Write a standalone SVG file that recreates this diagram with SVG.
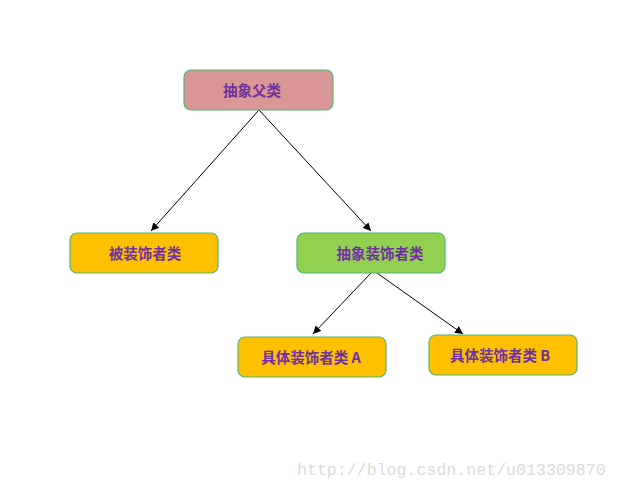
<svg xmlns="http://www.w3.org/2000/svg" width="617" height="490" viewBox="0 0 617 490">
<style>
.box{stroke:#4DB870;stroke-width:1.2}
.lbl{font-family:"Noto Sans CJK SC","Liberation Sans",sans-serif;font-size:14.5px;font-weight:bold;fill:#7030A0;text-anchor:middle;dominant-baseline:central}
.conn{stroke:#000;stroke-width:1;fill:none;marker-end:url(#arr)}
.wm{font-family:"Liberation Mono",monospace;font-size:16.6px;fill:#DCDCDC}
</style>
<defs>
<marker id="arr" viewBox="0 0 10 10" refX="10" refY="5" markerWidth="8" markerHeight="8" markerUnits="userSpaceOnUse" orient="auto">
<path d="M0,0 L10,5 L0,10 z" fill="#000"/>
</marker>
</defs>
<rect width="617" height="490" fill="#fff"/>
<g id="connectors">
<line class="conn" x1="259" y1="110" x2="151" y2="231"/>
<line class="conn" x1="259" y1="110" x2="371" y2="231"/>
<line class="conn" x1="371" y1="273" x2="313" y2="334"/>
<line class="conn" x1="377" y1="273" x2="463" y2="334"/>
</g>
<g id="abstract-parent">
<rect class="box" x="184" y="70" width="149" height="40" rx="7" fill="#D99694"/>
<text class="lbl" x="252" y="89">抽象父类</text>
</g>
<g id="decorated">
<rect class="box" x="70" y="233" width="148" height="40" rx="7" fill="#FFC000"/>
<text class="lbl" x="145" y="252">被装饰者类</text>
</g>
<g id="abstract-decorator">
<rect class="box" x="297" y="233" width="148" height="40" rx="7" fill="#92D050"/>
<text class="lbl" x="380" y="252">抽象装饰者类</text>
</g>
<g id="concrete-a">
<rect class="box" x="238" y="337" width="148" height="40" rx="7" fill="#FFC000"/>
<text class="lbl" x="311" y="356">具体装饰者类 A</text>
</g>
<g id="concrete-b">
<rect class="box" x="429" y="335" width="148" height="40" rx="7" fill="#FFC000"/>
<text class="lbl" x="500" y="354">具体装饰者类 B</text>
</g>
<text class="wm" x="297" y="475">http://blog.csdn.net/u013309870</text>
</svg>
